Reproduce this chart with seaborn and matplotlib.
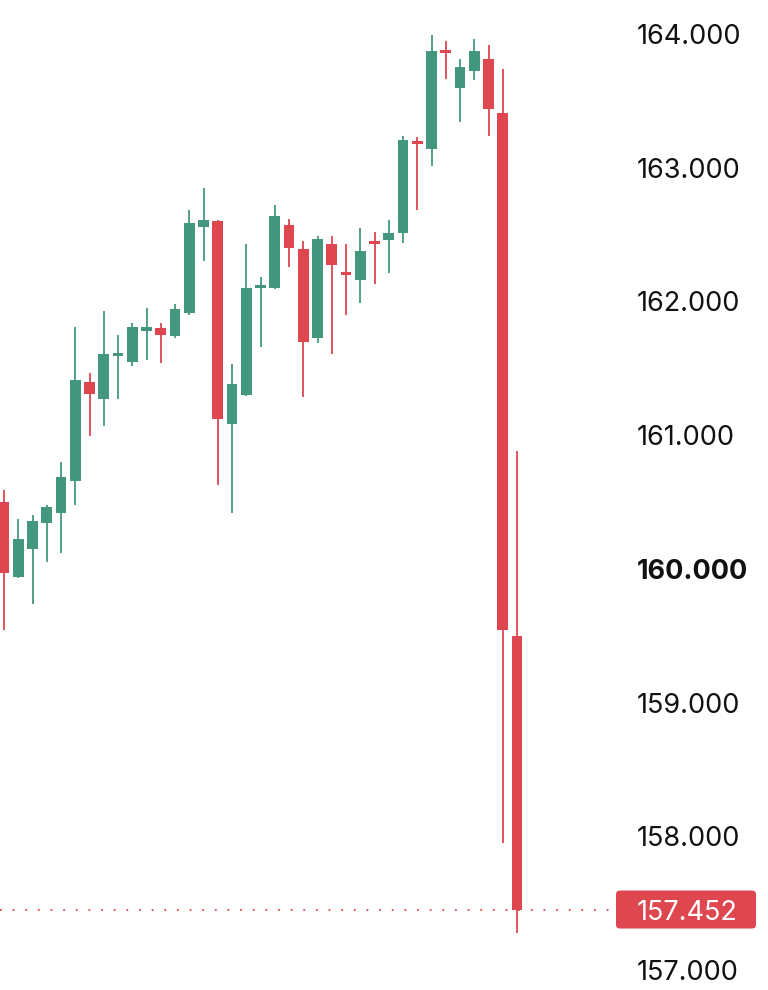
import numpy as np
import pandas as pd
import seaborn as sns
import matplotlib
matplotlib.use("Agg")
import matplotlib.pyplot as plt
from matplotlib.patches import FancyBboxPatch

# ---- data ----
opens = [160.50, 159.94, 160.15, 160.345, 160.42, 160.66, 161.40, 161.27, 161.59, 161.545,
         161.78, 161.80, 161.74, 161.91, 162.56, 162.60, 161.085, 161.30, 162.10, 162.10,
         162.57, 162.39, 161.73, 162.43, 162.21, 162.16, 162.44, 162.46, 162.51, 163.19,
         163.14, 163.87, 163.595, 163.72, 163.81, 163.41, 159.50]
closes = [159.97, 160.22, 160.36, 160.465, 160.685, 161.41, 161.31, 161.61, 161.60, 161.81,
          161.81, 161.75, 161.94, 162.59, 162.61, 161.12, 161.385, 162.10, 162.12, 162.64,
          162.40, 161.70, 162.47, 162.27, 162.20, 162.375, 162.43, 162.51, 163.21, 163.18,
          163.875, 163.86, 163.755, 163.875, 163.44, 159.54, 157.452]
highs = [160.59, 160.37, 160.40, 160.48, 160.80, 161.81, 161.465, 161.93, 161.75, 161.84,
         161.95, 161.84, 161.98, 162.68, 162.85, 162.61, 161.53, 162.43, 162.18, 162.72,
         162.62, 162.45, 162.49, 162.49, 162.43, 162.55, 162.52, 162.61, 163.24, 163.23,
         163.995, 163.95, 163.81, 163.96, 163.92, 163.74, 160.88]
lows = [159.54, 159.93, 159.74, 160.05, 160.115, 160.48, 160.99, 161.07, 161.27, 161.52,
        161.56, 161.54, 161.73, 161.90, 162.30, 160.63, 160.415, 161.29, 161.66, 162.09,
        162.26, 161.285, 161.69, 161.61, 161.90, 161.99, 162.13, 162.21, 162.44, 162.68,
        163.01, 163.66, 163.34, 163.655, 163.24, 157.95, 157.28]
y_ticks = [157.0, 158.0, 159.0, 160.0, 161.0, 162.0, 163.0, 164.0]
bold_tick = 160.0
last_price = closes[-1]

df = pd.DataFrame({"open": opens, "close": closes, "high": highs, "low": lows})
df["idx"] = np.arange(len(df))

GREEN = "#43977f"
RED = "#df4750"
FONT = ["Inter", "DejaVu Sans"]

sns.set_theme(style="white")
plt.rcParams["font.family"] = FONT

W, H = 768, 990
fig = plt.figure(figsize=(W / 100, H / 100), dpi=100)
ax_right_px = 612
ax = fig.add_axes([0, 0, ax_right_px / W, 1])

colors = np.where(df["close"] >= df["open"], GREEN, RED)

# wicks
ax.vlines(df["idx"], df["low"], df["high"], colors=colors, linewidth=1.3, zorder=2)
# bodies
bottoms = np.minimum(df["open"], df["close"])
heights = np.maximum(np.abs(df["close"] - df["open"]), 0.022)
ax.bar(df["idx"], heights, bottom=bottoms, width=0.74, color=colors, linewidth=0, zorder=3)

# price line
ax.axhline(last_price, color=RED, linestyle=(0, (1.0, 6.0)), linewidth=1.3, zorder=1)

# axis limits: 164 at y=34px, 133.71 px per unit; candle 0 at x=4px, 14.25 px spacing
ppu = 133.71
ax.set_ylim(164 - (H - 34) / ppu, 164 + 34 / ppu)
step = 14.25
ax.set_xlim(-4 / step, (ax_right_px - 4) / step)

ax.set_xticks([])
ax.yaxis.tick_right()
ax.set_yticks(y_ticks)
ax.set_yticklabels([f"{t:.3f}" for t in y_ticks])
ax.tick_params(axis="y", length=0, pad=18, labelsize=19.5, labelcolor="#111111")
for lab, t in zip(ax.get_yticklabels(), y_ticks):
    lab.set_fontfamily(FONT)
    if t == bold_tick:
        lab.set_fontweight("bold")
for s in ax.spines.values():
    s.set_visible(False)
ax.set_facecolor("white")
fig.patch.set_facecolor("white")

# last price label box (display pixel coordinates)
fig.canvas.draw()
ypix = ax.transData.transform((0, last_price))[1]
box = FancyBboxPatch((616, ypix - 19), 140, 38,
                     boxstyle="round,pad=0,rounding_size=4",
                     transform=None, facecolor=RED, edgecolor="none", zorder=5)
fig.patches.append(box)
fig.text(637 / W, ypix / H, f"{last_price:.3f}", color="white", fontsize=19.5,
         family=FONT, ha="left", va="center_baseline", zorder=6)

fig.savefig("out.png", dpi=100, facecolor="white")
